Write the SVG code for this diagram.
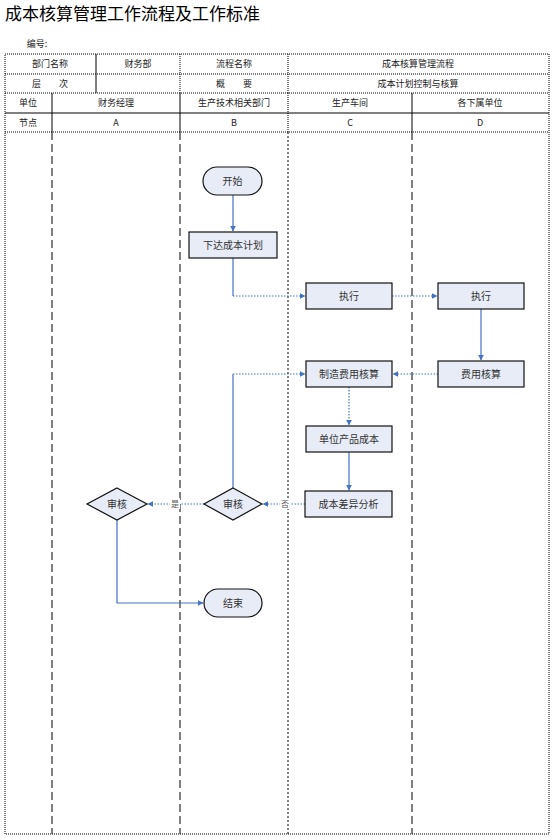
<svg xmlns="http://www.w3.org/2000/svg" width="553" height="838" viewBox="0 0 553 838">
<defs>
<style>
.t{font-family:"Liberation Serif","Noto Sans CJK SC",serif;}
.h{font-family:"Noto Sans CJK SC",sans-serif;font-size:9px;fill:#222;text-anchor:middle;}
.n{font-family:"Noto Sans CJK SC",sans-serif;font-size:10px;fill:#333;text-anchor:middle;}
.lbl{font-family:"Noto Sans CJK SC",sans-serif;font-size:8px;fill:#555;text-anchor:middle;}
.box{fill:#E7ECF6;stroke:#111;stroke-width:1.2;}
.grid{stroke:#000;stroke-width:1;fill:none;}
.gd{stroke:#000;stroke-width:1;fill:none;stroke-dasharray:1,1;}
.lane{stroke:#000;stroke-width:1;fill:none;stroke-dasharray:8,4;}
.lane2{stroke:#000;stroke-width:1;fill:none;stroke-dasharray:2,2;}
.c{stroke:#4472C4;stroke-width:1.2;fill:none;}
.cd{stroke:#4472C4;stroke-width:1.2;fill:none;stroke-dasharray:1.5,1.5;}
</style>
<marker id="a" viewBox="0 0 10 10" refX="9" refY="5" markerWidth="6" markerHeight="6" orient="auto-start-reverse" markerUnits="userSpaceOnUse">
<path d="M0,0 L10,5 L0,10 z" fill="#4472C4"/>
</marker>
</defs>
<rect width="553" height="838" fill="#fff"/>
<text class="t" x="5" y="20" font-size="17" fill="#000">成本核算管理工作流程及工作标准</text>
<text class="h" x="37" y="47" font-size="8">编号:</text>
<g id="table">
<rect class="gd" x="5" y="54" width="544" height="780"/>
<line class="gd" x1="5" y1="74" x2="549" y2="74"/>
<line class="gd" x1="5" y1="93" x2="549" y2="93"/>
<line class="grid" x1="5" y1="113" x2="549" y2="113"/>
<line class="gd" x1="5" y1="132" x2="549" y2="132"/>
<line class="grid" x1="96" y1="54" x2="96" y2="93"/>
<line class="gd" x1="180" y1="54" x2="180" y2="93"/>
<line class="gd" x1="288" y1="54" x2="288" y2="93"/>
<line class="grid" x1="52" y1="93" x2="52" y2="132"/>
<line class="grid" x1="180" y1="93" x2="180" y2="132"/>
<line class="gd" x1="288" y1="93" x2="288" y2="132"/>
<line class="grid" x1="412" y1="93" x2="412" y2="132"/>
<text class="h" x="50" y="67">部门名称</text>
<text class="h" x="138" y="67">财务部</text>
<text class="h" x="234" y="67">流程名称</text>
<text class="h" x="418" y="67">成本核算管理流程</text>
<text class="h" x="50" y="87">层　　次</text>
<text class="h" x="234" y="87">概　　要</text>
<text class="h" x="418" y="87">成本计划控制与核算</text>
<text class="h" x="28" y="106">单位</text>
<text class="h" x="116" y="106">财务经理</text>
<text class="h" x="234" y="106">生产技术相关部门</text>
<text class="h" x="350" y="106">生产车间</text>
<text class="h" x="480" y="106">各下属单位</text>
<text class="h" x="28" y="126">节点</text>
<text class="h" x="116" y="126">A</text>
<text class="h" x="234" y="126">B</text>
<text class="h" x="350" y="126">C</text>
<text class="h" x="480" y="126">D</text>
<line class="lane" x1="52" y1="132" x2="52" y2="834"/>
<line class="lane" x1="180" y1="132" x2="180" y2="834"/>
<line class="lane2" x1="288" y1="132" x2="288" y2="834"/>
<line class="lane" x1="412" y1="132" x2="412" y2="834"/>
</g>
<g id="connectors">
<line class="c" x1="233" y1="195" x2="233" y2="231" marker-end="url(#a)"/>
<path class="c" d="M233,258 V296"/>
<path class="cd" d="M233,296 H305" marker-end="url(#a)"/>
<path class="cd" d="M392,296 H437" marker-end="url(#a)"/>
<path class="c" d="M481,309 V360" marker-end="url(#a)"/>
<path class="cd" d="M438,374 H393" marker-end="url(#a)"/>
<path class="cd" d="M349,387 V425" marker-end="url(#a)"/>
<path class="c" d="M349,452 V490" marker-end="url(#a)"/>
<path class="cd" d="M305,504 H263" marker-end="url(#a)"/>
<path class="c" d="M233,488 V374"/>
<path class="cd" d="M233,374 H305" marker-end="url(#a)"/>
<path class="cd" d="M204,504 H148" marker-end="url(#a)"/>
<path class="c" d="M117,520 V603 H203" marker-end="url(#a)"/>
<rect x="280" y="498" width="10" height="11" fill="#fff"/>
<text class="lbl" x="285" y="507">否</text>
<rect x="170" y="498" width="10" height="11" fill="#fff"/>
<text class="lbl" x="175" y="507">是</text>
</g>
<g id="start"><rect class="box" x="203" y="167" width="59" height="28" rx="14"/><text class="n" x="232.5" y="185">开始</text></g>
<g id="issue"><rect class="box" x="189" y="232" width="88" height="26"/><text class="n" x="233" y="249">下达成本计划</text></g>
<g id="execC"><rect class="box" x="306" y="283" width="86" height="26"/><text class="n" x="349" y="300">执行</text></g>
<g id="execD"><rect class="box" x="438" y="283" width="86" height="26"/><text class="n" x="481" y="300">执行</text></g>
<g id="feeD"><rect class="box" x="438" y="361" width="86" height="26"/><text class="n" x="481" y="378">费用核算</text></g>
<g id="mfg"><rect class="box" x="306" y="361" width="86" height="26"/><text class="n" x="349" y="378">制造费用核算</text></g>
<g id="unit"><rect class="box" x="306" y="426" width="86" height="26"/><text class="n" x="349" y="443">单位产品成本</text></g>
<g id="diff"><rect class="box" x="305" y="491" width="87" height="26"/><text class="n" x="348.5" y="508">成本差异分析</text></g>
<g id="reviewB"><polygon class="box" points="233,488 262,504 233,520 204,504"/><text class="n" x="233" y="508">审核</text></g>
<g id="reviewA"><polygon class="box" points="117,488 147,504 117,520 87,504"/><text class="n" x="117" y="508">审核</text></g>
<g id="end"><rect class="box" x="204" y="589" width="58" height="28" rx="14"/><text class="n" x="233" y="607">结束</text></g>
</svg>
